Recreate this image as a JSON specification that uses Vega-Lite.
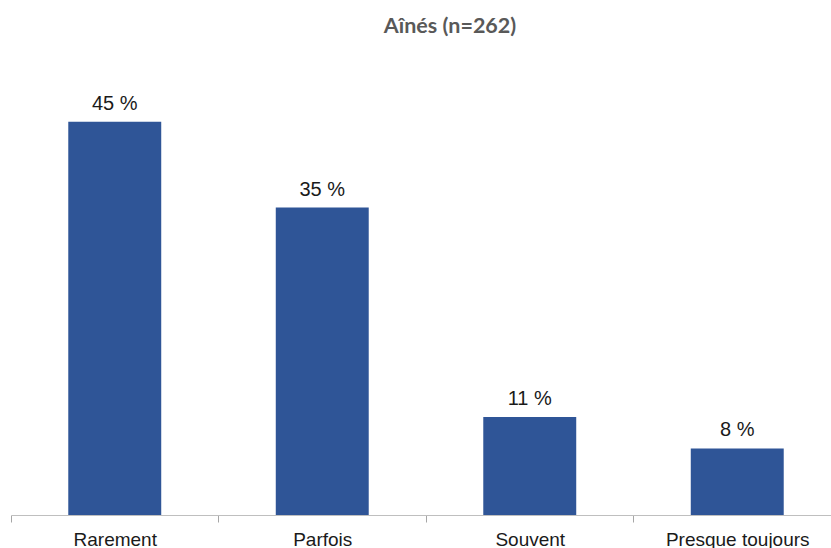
{
  "$schema": "https://vega.github.io/schema/vega-lite/v6.json",
  "autosize": {"type": "none"},
  "width": 820,
  "height": 438,
  "padding": {"left": 11, "top": 77, "right": 0, "bottom": 33},
  "background": "white",
  "title": {
    "text": "Aînés (n=262)",
    "font": "Lato",
    "fontWeight": "bold",
    "fontSize": 21.5,
    "color": "#595959",
    "anchor": "middle",
    "dx": 29,
    "offset": 40
  },
  "data": {
    "values": [
      {"category": "Rarement", "value": 44.9, "label": "45 %"},
      {"category": "Parfois", "value": 35.1, "label": "35 %"},
      {"category": "Souvent", "value": 11.2, "label": "11 %"},
      {"category": "Presque toujours", "value": 7.6, "label": "8 %"}
    ]
  },
  "config": {"view": {"stroke": null}},
  "encoding": {
    "x": {
      "field": "category",
      "type": "nominal",
      "sort": null,
      "scale": {"range": [0, 830], "paddingInner": 0.552, "paddingOuter": 0.276},
      "axis": {
        "title": null,
        "labelAngle": 0,
        "labelFont": "Liberation Sans",
        "labelFontSize": 19,
        "labelColor": "#1a1a1a",
        "labelPadding": 8,
        "domainColor": "#BFBFBF",
        "tickColor": "#A6A6A6",
        "tickSize": 7,
        "bandPosition": 0,
        "tickOffset": -57.3,
        "labelOffset": 57.3
      }
    },
    "y": {
      "field": "value",
      "type": "quantitative",
      "scale": {"domain": [0, 50]},
      "axis": null
    }
  },
  "layer": [
    {"mark": {"type": "bar", "color": "#2F5597"}},
    {
      "mark": {
        "type": "text",
        "font": "Liberation Sans",
        "fontSize": 20,
        "color": "#1a1a1a",
        "baseline": "alphabetic",
        "dy": -12
      },
      "encoding": {"text": {"field": "label"}}
    }
  ]
}
